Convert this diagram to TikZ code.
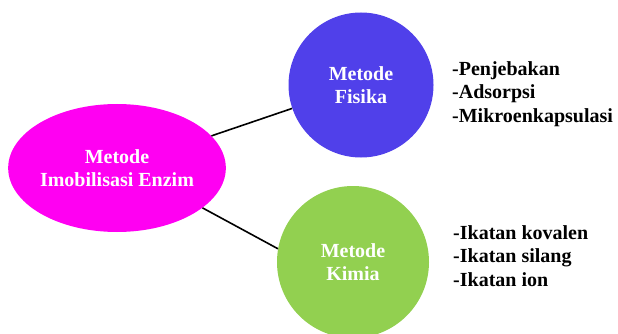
\documentclass[tikz,border=0pt]{standalone}
\usepackage{fontspec}
\setmainfont{Liberation Serif}
\usepackage{tikz}
\usetikzlibrary{positioning,shapes.geometric}

\definecolor{magentaenz}{RGB}{255,0,242}
\definecolor{bluefis}{RGB}{80,64,234}
\definecolor{greenkim}{RGB}{146,208,80}

\begin{document}
\begin{tikzpicture}[
    x = 1pt, y = -1pt, % pixel-like units
    every node/.style = {font=\fontsize{20}{23.5}\selectfont\bfseries},
    blob/.style = {draw=none, text=white, align=center, inner sep=0pt},
    itemlist/.style = {align=left, anchor=west, inner sep=0pt},
    link/.style = {draw=black, line width=1.6pt}
    ]

    \useasboundingbox (0,0) rectangle (618,334);

    \node[blob, ellipse, fill=magentaenz, minimum width=214pt, minimum height=128pt] (enzim) at (117,168) {Metode\\Imobilisasi Enzim};
    \node[blob, circle, fill=bluefis, minimum size=145pt] (fisika) at (361,85) {Metode\\Fisika};
    \node[blob, ellipse, fill=greenkim, minimum width=152pt, minimum height=152pt] (kimia) at (353,262) {Metode\\Kimia};

    \node[itemlist] (listfis) at (452,94) {-Penjebakan\\-Adsorpsi\\-Mikroenkapsulasi};
    \node[itemlist] (listkim) at (453,256) {-Ikatan kovalen\\-Ikatan silang\\-Ikatan ion};

    \draw[link] (enzim) -- (fisika);
    \draw[link] (enzim.-25) -- (kimia.170);
\end{tikzpicture}
\end{document}
